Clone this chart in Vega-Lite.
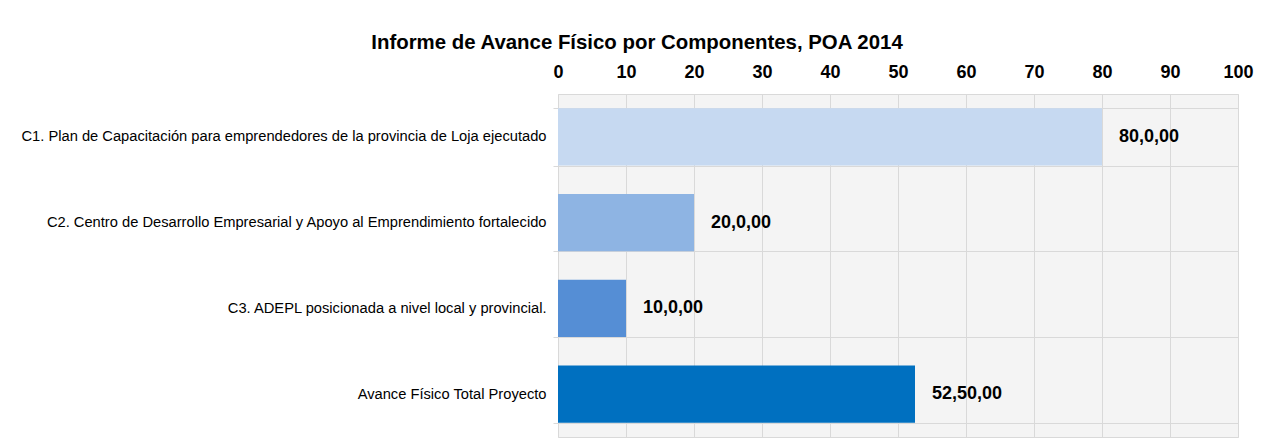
{
  "$schema": "https://vega.github.io/schema/vega-lite/v6.json",
  "width": 680,
  "height": 343,
  "autosize": {"type": "none"},
  "padding": {"left": 558, "top": 94, "right": 36, "bottom": 11},
  "background": "white",
  "title": {
    "text": "Informe de Avance Físico por Componentes, POA 2014",
    "frame": "bounds",
    "anchor": "middle",
    "font": "Liberation Sans",
    "fontSize": 20.4,
    "fontWeight": "bold",
    "color": "#000000",
    "offset": 10
  },
  "config": {
    "view": {"stroke": "#d9d9d9", "fill": "#f4f4f4"},
    "font": "Liberation Sans"
  },
  "data": {
    "values": [
      {"componente": "C1. Plan de Capacitación para emprendedores de la provincia de Loja ejecutado", "avance": 80, "etiqueta": "80,0,00"},
      {"componente": "C2. Centro de Desarrollo Empresarial y Apoyo al Emprendimiento fortalecido", "avance": 20, "etiqueta": "20,0,00"},
      {"componente": "C3. ADEPL posicionada a nivel local y provincial.", "avance": 10, "etiqueta": "10,0,00"},
      {"componente": "Avance Físico Total Proyecto", "avance": 52.5, "etiqueta": "52,50,00"}
    ]
  },
  "encoding": {
    "y": {
      "field": "componente",
      "type": "nominal",
      "sort": null,
      "title": null,
      "scale": {"paddingInner": 0.33, "paddingOuter": 0.165},
      "axis": {
        "tickBand": "extent",
        "grid": true,
        "gridColor": "#d9d9d9",
        "domain": false,
        "ticks": true,
        "tickColor": "#d9d9d9",
        "tickSize": 5,
        "labelFont": "Liberation Sans",
        "labelFontSize": 14.7,
        "labelColor": "#000000",
        "labelPadding": 7,
        "labelLimit": 600
      }
    },
    "x": {
      "field": "avance",
      "type": "quantitative",
      "title": null,
      "scale": {"domain": [0, 100], "nice": false},
      "axis": {
        "orient": "top",
        "values": [0, 10, 20, 30, 40, 50, 60, 70, 80, 90, 100],
        "grid": true,
        "gridColor": "#d9d9d9",
        "domain": false,
        "ticks": false,
        "labelFlush": false,
        "labelOverlap": false,
        "labelFont": "Liberation Sans",
        "labelFontSize": 18,
        "labelFontWeight": "bold",
        "labelColor": "#000000",
        "labelPadding": 13
      }
    }
  },
  "layer": [
    {
      "mark": {"type": "bar"},
      "encoding": {
        "color": {
          "field": "componente",
          "type": "nominal",
          "legend": null,
          "scale": {
            "domain": [
              "C1. Plan de Capacitación para emprendedores de la provincia de Loja ejecutado",
              "C2. Centro de Desarrollo Empresarial y Apoyo al Emprendimiento fortalecido",
              "C3. ADEPL posicionada a nivel local y provincial.",
              "Avance Físico Total Proyecto"
            ],
            "range": ["#c6d9f1", "#8eb4e3", "#558ed5", "#0070c0"]
          }
        }
      }
    },
    {
      "mark": {"type": "text", "align": "left", "dx": 17, "font": "Liberation Sans", "fontSize": 18, "fontWeight": "bold", "color": "#000000"},
      "encoding": {"text": {"field": "etiqueta"}}
    }
  ]
}
